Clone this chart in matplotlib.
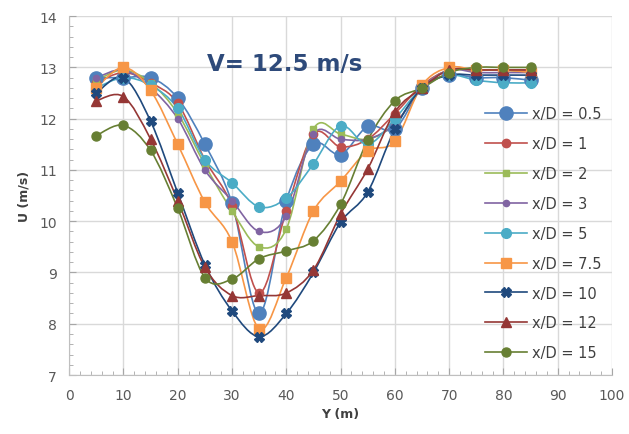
import numpy as np
import matplotlib.pyplot as plt
from matplotlib.path import Path
from matplotlib.patches import PathPatch
from matplotlib.lines import Line2D
from matplotlib.ticker import MultipleLocator

y_pos = [5, 10, 15, 20, 25, 30, 35, 40, 45, 50, 55, 60, 65, 70, 75, 80, 85]

u_05 = [12.8, 12.8, 12.8, 12.4, 11.5, 10.35, 8.2, 10.4, 11.5, 11.3, 11.85, 11.8, 12.6, 12.85, 12.8, 12.8, 12.75]
u_1 = [12.7, 12.9, 12.7, 12.3, 11.2, 10.3, 8.6, 10.2, 11.7, 11.45, 11.6, 12.1, 12.65, 12.95, 12.95, 12.95, 12.95]
u_2 = [12.75, 12.95, 12.7, 12.1, 11.1, 10.2, 9.5, 9.85, 11.8, 11.7, 11.6, 11.9, 12.6, 12.95, 12.95, 12.95, 12.9]
u_3 = [12.8, 12.95, 12.6, 12.0, 11.0, 10.4, 9.8, 10.1, 11.7, 11.6, 11.6, 11.9, 12.6, 12.95, 12.9, 12.9, 12.9]
u_5 = [12.6, 12.8, 12.65, 12.2, 11.2, 10.75, 10.28, 10.45, 11.12, 11.86, 11.5, 12.0, 12.6, 12.85, 12.75, 12.7, 12.7]
u_75 = [12.6, 13.0, 12.55, 11.5, 10.37, 9.6, 7.9, 8.9, 10.2, 10.78, 11.37, 11.56, 12.65, 13.0, 12.95, 12.95, 12.9]
u_10 = [12.5, 12.8, 11.95, 10.55, 9.15, 8.25, 7.75, 8.2, 9.0, 9.98, 10.57, 11.8, 12.6, 12.85, 12.85, 12.85, 12.85]
u_12 = [12.35, 12.43, 11.6, 10.4, 9.1, 8.55, 8.55, 8.6, 9.05, 10.14, 11.02, 12.13, 12.6, 12.95, 12.95, 12.95, 12.95]
u_15 = [11.67, 11.87, 11.38, 10.25, 8.9, 8.87, 9.27, 9.42, 9.62, 10.33, 11.58, 12.35, 12.6, 12.9, 13.0, 13.0, 13.0]

labels = ['x/D = 0.5', 'x/D = 1', 'x/D = 2', 'x/D = 3', 'x/D = 5',
          'x/D = 7.5', 'x/D = 10', 'x/D = 12', 'x/D = 15']
series = [u_05, u_1, u_2, u_3, u_5, u_75, u_10, u_12, u_15]
colors = ['#4F81BD', '#C0504D', '#9BBB59', '#8064A2', '#4BACC6',
          '#F79646', '#1F497D', '#953735', '#677F33']
markers = ['o', 'o', 's', 'o', 'o', 's', 'X', '^', 'o']
msizes = [9.5, 6, 5, 4.5, 7, 6.5, 7, 6.5, 6.5]


def smooth_path(x, y):
    # Excel-style smoothed line: cubic bezier through the points
    x = np.asarray(x, float)
    y = np.asarray(y, float)
    verts = [(x[0], y[0])]
    codes = [Path.MOVETO]
    n = len(x)
    for i in range(n - 1):
        p0 = np.array([x[max(i - 1, 0)], y[max(i - 1, 0)]])
        p1 = np.array([x[i], y[i]])
        p2 = np.array([x[i + 1], y[i + 1]])
        p3 = np.array([x[min(i + 2, n - 1)], y[min(i + 2, n - 1)]])
        c1 = p1 + (p2 - p0) / 6.0
        c2 = p2 - (p3 - p1) / 6.0
        verts += [tuple(c1), tuple(c2), tuple(p2)]
        codes += [Path.CURVE4] * 3
    return Path(verts, codes)


fig = plt.figure(figsize=(6.29, 4.35), dpi=100)
ax = fig.add_axes([0.110, 0.1356, 0.863, 0.825])

handles = []
for vals, lab, c, m, ms in zip(series, labels, colors, markers, msizes):
    ax.add_patch(PathPatch(smooth_path(y_pos, vals), facecolor='none',
                           edgecolor=c, lw=1.2, zorder=2))
    ax.plot(y_pos, vals, linestyle='none', marker=m, ms=ms, color=c,
            markeredgecolor=c, zorder=3)
    handles.append(Line2D([], [], color=c, lw=1.2, marker=m, ms=ms,
                          markeredgecolor=c, label=lab))

ax.set_xlim(0, 100)
ax.set_ylim(7, 14)
ax.xaxis.set_major_locator(MultipleLocator(10))
ax.xaxis.set_minor_locator(MultipleLocator(2))
ax.yaxis.set_major_locator(MultipleLocator(1))
ax.yaxis.set_minor_locator(MultipleLocator(0.2))
ax.grid(True, which='major', color='#D9D9D9', lw=1)
ax.set_axisbelow(True)
for s in ax.spines.values():
    s.set_color('#BFBFBF')
ax.spines['top'].set_visible(False)
ax.spines['right'].set_visible(False)
ax.tick_params(which='both', direction='in', colors='#A6A6A6',
               labelcolor='#595959', labelsize=10)
ax.tick_params(which='major', length=5, pad=9)
ax.tick_params(which='minor', length=3)

ax.set_xlabel('Y (m)', fontsize=9, fontweight='bold', color='#404040', labelpad=4)
ax.set_ylabel('U (m/s)', fontsize=9, fontweight='bold', color='#404040', labelpad=6)

ax.text(39.7, 13.07, 'V= 12.5 m/s', fontsize=16.5, fontweight='bold',
        color='#2E4A7A', ha='center', va='center')

ax.legend(handles=handles, loc='upper left', bbox_to_anchor=(0.755, 0.765),
          frameon=False, fontsize=10.5, handlelength=2.9, labelspacing=1.02,
          handletextpad=0.3, borderaxespad=0, labelcolor='#404040')

fig.savefig('out.png', dpi=100)
